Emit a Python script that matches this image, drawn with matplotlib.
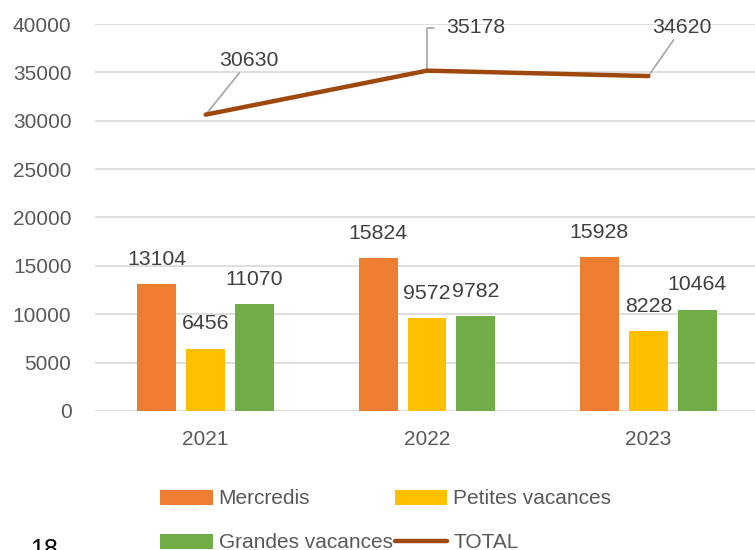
import matplotlib.pyplot as plt
import numpy as np

plt.rcParams['font.family'] = ['Liberation Sans', 'DejaVu Sans']

years = ['2021', '2022', '2023']
mercredis = [13104, 15824, 15928]
petites = [6456, 9572, 8228]
grandes = [11070, 9782, 10464]
total = [30630, 35178, 34620]

c_merc = '#ED7D31'
c_pet = '#FFC000'
c_gra = '#70AD47'
c_tot = '#9E480E'
txt = '#404040'
tick_col = '#595959'

fig = plt.figure(figsize=(7.55, 5.5), dpi=100)
ax = fig.add_axes([95 / 755, 139 / 550, 664 / 755, 387 / 550])

x = np.arange(len(years))
w = 0.176
step = 0.221

series = [(mercredis, c_merc, 'Mercredis'),
          (petites, c_pet, 'Petites vacances'),
          (grandes, c_gra, 'Grandes vacances')]
for i, (vals, col, lab) in enumerate(series):
    pos = x + (i - 1) * step
    ax.bar(pos, vals, width=w, color=col, label=lab, zorder=3)
    for p, v in zip(pos, vals):
        ax.annotate(str(v), (p, v), xytext=(0, 11), textcoords='offset points',
                    ha='center', va='bottom', fontsize=15.3, color=txt)

ax.plot(x, total, color=c_tot, lw=3.2, solid_capstyle='round',
        label='TOTAL', zorder=4)

# labels of the total line, with leader lines
lead = dict(arrowstyle='-', color='#A6A6A6', lw=1.2, shrinkA=0, shrinkB=0)
ax.annotate(str(total[0]), (x[0], total[0]), xytext=(10, 32),
            textcoords='offset points', ha='left', va='bottom', fontsize=15.3,
            color=txt, arrowprops=lead)
ax.annotate(str(total[1]), (x[1], total[1]), xytext=(14, 31),
            textcoords='offset points', ha='left', va='center', fontsize=15.3,
            color=txt,
            arrowprops=dict(arrowstyle='-', color='#A6A6A6', lw=1.2,
                            shrinkA=7, shrinkB=0,
                            connectionstyle='angle,angleA=0,angleB=90,rad=0'))
ax.annotate(str(total[2]), (x[2], total[2]), xytext=(3, 28),
            textcoords='offset points', ha='left', va='bottom', fontsize=15.3,
            color=txt, arrowprops=lead)

ax.set_xlim(-0.5, 2.5)
ax.set_ylim(0, 40000)
ax.set_yticks(range(0, 40001, 5000))
ax.set_xticks(x)
ax.set_xticklabels(years)
ax.tick_params(axis='both', length=0, labelsize=15, colors=tick_col)
ax.tick_params(axis='x', pad=14)
ax.tick_params(axis='y', pad=17)
ax.grid(axis='y', color='#D9D9D9', lw=1.2, zorder=0)
for s in ax.spines.values():
    s.set_visible(False)

handles, labels = ax.get_legend_handles_labels()
# column-wise filling: Mercredis / Grandes, then Petites / TOTAL
order = [labels.index(n) for n in
         ['Mercredis', 'Grandes vacances', 'Petites vacances', 'TOTAL']]
fig.legend([handles[i] for i in order], [labels[i] for i in order],
           ncol=2, loc='upper left', bbox_to_anchor=(150 / 755, 71 / 550),
           frameon=False, fontsize=15, handlelength=2.5, handleheight=0.75,
           handletextpad=0.3, columnspacing=0.1, labelspacing=1.2,
           borderpad=0, labelcolor=tick_col)

fig.text(30 / 755, 12 / 550, '18', fontsize=18, color='black',
         ha='left', va='top')

fig.savefig('out.png', dpi=100)
